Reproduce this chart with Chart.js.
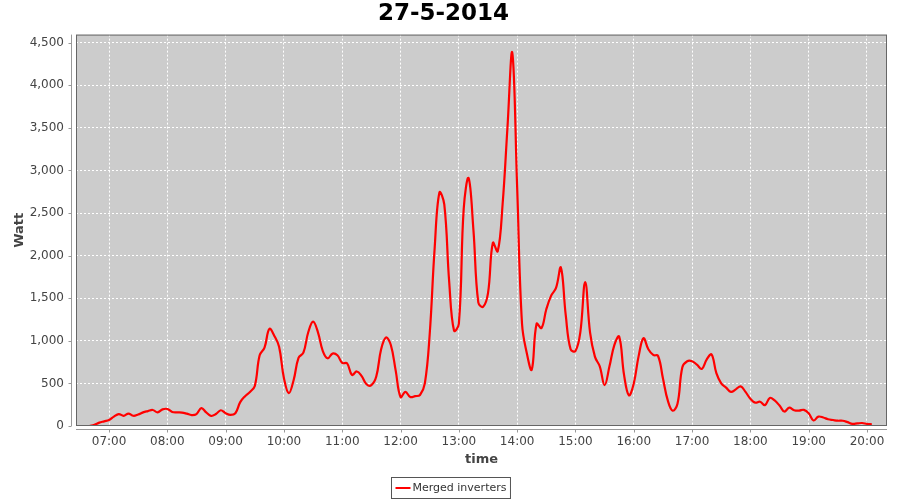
<!DOCTYPE html>
<html>
<head>
<meta charset="utf-8">
<script src="https://cdn.jsdelivr.net/npm/chart.js@4.4.1/dist/chart.umd.min.js"></script>
<style>
  html, body { margin: 0; padding: 0; background: #fff; }
  #wrap { width: 900px; height: 500px; }
</style>
</head>
<body>
<div id="wrap"><canvas id="powerChart"></canvas></div>
<script>
"use strict";
// 5 minute samples, 27-5-2014
const times = [
  "06:40", "06:45", "06:50", "06:55", "07:00", "07:05", "07:10", "07:15", "07:20", "07:25",
  "07:30", "07:35", "07:40", "07:45", "07:50", "07:55", "08:00", "08:05", "08:10", "08:15",
  "08:20", "08:25", "08:30", "08:35", "08:40", "08:45", "08:50", "08:55", "09:00", "09:05",
  "09:10", "09:15", "09:20", "09:25", "09:30", "09:35", "09:40", "09:45", "09:50", "09:55",
  "10:00", "10:05", "10:10", "10:15", "10:20", "10:25", "10:30", "10:35", "10:40", "10:45",
  "10:50", "10:55", "11:00", "11:05", "11:10", "11:15", "11:20", "11:25", "11:30", "11:35",
  "11:40", "11:45", "11:50", "11:55", "12:00", "12:05", "12:10", "12:15", "12:20", "12:25",
  "12:30", "12:35", "12:40", "12:45", "12:50", "12:55", "13:00", "13:05", "13:10", "13:15",
  "13:20", "13:25", "13:30", "13:35", "13:40", "13:45", "13:50", "13:55", "14:00", "14:05",
  "14:10", "14:15", "14:20", "14:25", "14:30", "14:35", "14:40", "14:45", "14:50", "14:55",
  "15:00", "15:05", "15:10", "15:15", "15:20", "15:25", "15:30", "15:35", "15:40", "15:45",
  "15:50", "15:55", "16:00", "16:05", "16:10", "16:15", "16:20", "16:25", "16:30", "16:35",
  "16:40", "16:45", "16:50", "16:55", "17:00", "17:05", "17:10", "17:15", "17:20", "17:25",
  "17:30", "17:35", "17:40", "17:45", "17:50", "17:55", "18:00", "18:05", "18:10", "18:15",
  "18:20", "18:25", "18:30", "18:35", "18:40", "18:45", "18:50", "18:55", "19:00", "19:05",
  "19:10", "19:15", "19:20", "19:25", "19:30", "19:35", "19:40", "19:45", "19:50", "19:55",
  "20:00", "20:05"
];
const watts = [
  0, 15, 40, 55, 70, 110, 140, 120, 145, 120,
  135, 160, 175, 188, 160, 195, 200, 165, 160, 158,
  145, 128, 140, 210, 160, 118, 140, 185, 150, 130,
  150, 280, 350, 400, 470, 830, 920, 1140, 1060, 930,
  560, 385, 540, 800, 860, 1100, 1225, 1100, 880, 795,
  850, 830, 740, 735, 600, 640, 585, 490, 480, 580,
  900, 1040, 950, 650, 340, 400, 340, 350, 364, 500,
  1080, 2070, 2740, 2600, 1700, 1120, 1200, 2550, 2910, 2300,
  1450, 1400, 1560, 2150, 2050, 2600, 3500, 4380, 2800, 1200,
  850, 660, 1200, 1150, 1370, 1530, 1620, 1860, 1300, 900,
  880, 1100, 1690, 1100, 814, 700, 480, 700, 950, 1050,
  600, 360, 500, 820, 1030, 900, 834, 822, 560, 300,
  180, 260, 690, 760, 760, 720, 670, 780, 840, 620,
  500, 450, 400, 430, 465, 400, 320, 274, 285, 245,
  330, 300, 240, 170, 215, 185, 180, 190, 150, 65,
  110, 100, 79, 70, 62, 62, 45, 25, 30, 35,
  24, 20
];
const hourTicks = ["07:00", "08:00", "09:00", "10:00", "11:00", "12:00", "13:00",
  "14:00", "15:00", "16:00", "17:00", "18:00", "19:00", "20:00"];
const wattTicks = [0, 500, 1000, 1500, 2000, 2500, 3000, 3500, 4000, 4500];
const seriesName = "Merged inverters";

function toMin(t) {
  const p = t.split(":");
  return Number(p[0]) * 60 + Number(p[1]);
}
function fmtMin(m) {
  const h = Math.floor(m / 60), mm = Math.round(m % 60);
  return String(h).padStart(2, "0") + ":" + String(mm).padStart(2, "0");
}

const points = times.map((t, i) => ({ x: toMin(t), y: watts[i] }));

// plot background, outline, offset axis lines and the boxed legend
const jfreeLook = {
  id: "jfreeLook",
  beforeDraw(chart) {
    const { ctx, chartArea: a } = chart;
    ctx.save();
    ctx.fillStyle = "#cccccc";
    ctx.fillRect(a.left, a.top, a.right - a.left, a.bottom - a.top);
    ctx.restore();
  },
  afterDraw(chart) {
    const { ctx, chartArea: a, scales } = chart;
    ctx.save();
    ctx.strokeStyle = "#666666";
    ctx.lineWidth = 1;
    ctx.strokeRect(a.left + 0.5, a.top + 0.5, a.right - a.left - 1, a.bottom - a.top - 1);

    ctx.strokeStyle = "#999999";
    const ax = a.left - 4.5;
    ctx.beginPath();
    ctx.moveTo(ax, a.top);
    ctx.lineTo(ax, a.bottom);
    scales.y.ticks.forEach((t) => {
      const y = Math.round(scales.y.getPixelForValue(t.value)) + 0.5;
      ctx.moveTo(ax - 3, y);
      ctx.lineTo(ax, y);
    });
    const ay = a.bottom + 3.5;
    ctx.moveTo(a.left, ay);
    ctx.lineTo(a.right, ay);
    scales.x.ticks.forEach((t) => {
      const x = Math.round(scales.x.getPixelForValue(t.value)) + 0.5;
      ctx.moveTo(x, ay);
      ctx.lineTo(x, ay + 3);
    });
    ctx.stroke();

    // legend
    ctx.font = "11px 'DejaVu Sans'";
    const tw = ctx.measureText(seriesName).width;
    const w = tw + 25, h = 21;
    const lx = Math.round(chart.width / 2 - w / 2) + 0.5, ly = 477.5;
    ctx.fillStyle = "#ffffff";
    ctx.fillRect(lx, ly, w, h);
    ctx.strokeStyle = "#555555";
    ctx.strokeRect(lx, ly, w, h);
    ctx.strokeStyle = "#ff0000";
    ctx.lineWidth = 2;
    ctx.beginPath();
    ctx.moveTo(lx + 4, ly + 10.5);
    ctx.lineTo(lx + 19, ly + 10.5);
    ctx.stroke();
    ctx.fillStyle = "#333333";
    ctx.textBaseline = "middle";
    ctx.fillText(seriesName, lx + 21, ly + 11);
    ctx.restore();
  },
};

const ctx = document.getElementById("powerChart");
const powerChart = new Chart(ctx, {
  type: "line",
  data: {
    datasets: [
      {
        label: seriesName,
        data: points,
        borderColor: "#ff0000",
        backgroundColor: "#ff0000",
        borderWidth: 2.2,
        pointRadius: 0,
        tension: 0.4,
        fill: false,
      },
    ],
  },
  options: {
    responsive: true,
    maintainAspectRatio: false,
    animation: false,
    layout: { padding: { left: 0, right: 13, top: 0, bottom: 30 } },
    plugins: {
      legend: { display: false },
      tooltip: { enabled: false },
      title: {
        display: true,
        text: "27-5-2014",
        color: "#000000",
        font: { family: "'DejaVu Sans'", size: 23, weight: "bold" },
        padding: { top: 0, bottom: 7 },
      },
    },
    scales: {
      x: {
        type: "linear",
        min: 386,
        max: 1220.6,
        afterBuildTicks(scale) {
          scale.ticks = hourTicks.map((t) => ({ value: toMin(t) }));
        },
        afterFit(scale) {
          scale.height = 44;
        },
        ticks: {
          color: "#444444",
          font: { family: "'DejaVu Sans'", size: 12 },
          padding: 9,
          maxRotation: 0,
          autoSkip: false,
          callback: (v) => fmtMin(v),
        },
        grid: { color: "#ffffff", lineWidth: 1, drawTicks: false },
        border: { display: false, dash: [2, 2] },
        title: {
          display: true,
          text: "time",
          color: "#444444",
          font: { family: "'DejaVu Sans'", size: 13, weight: "bold" },
          padding: { top: 0, bottom: 3 },
        },
      },
      y: {
        min: 0,
        max: 4594,
        afterBuildTicks(scale) {
          scale.ticks = wattTicks.map((v) => ({ value: v }));
        },
        afterFit(scale) {
          scale.width = 76;
        },
        ticks: {
          color: "#444444",
          font: { family: "'DejaVu Sans'", size: 12 },
          padding: 12,
          callback: (v) => v.toLocaleString("en-US"),
        },
        grid: { color: "#ffffff", lineWidth: 1, drawTicks: false },
        border: { display: false, dash: [2, 2] },
        title: {
          display: true,
          text: "Watt",
          color: "#444444",
          font: { family: "'DejaVu Sans'", size: 13, weight: "bold" },
          padding: { top: 12, bottom: 0 },
        },
      },
    },
  },
  plugins: [jfreeLook],
});
</script>
</body>
</html>
